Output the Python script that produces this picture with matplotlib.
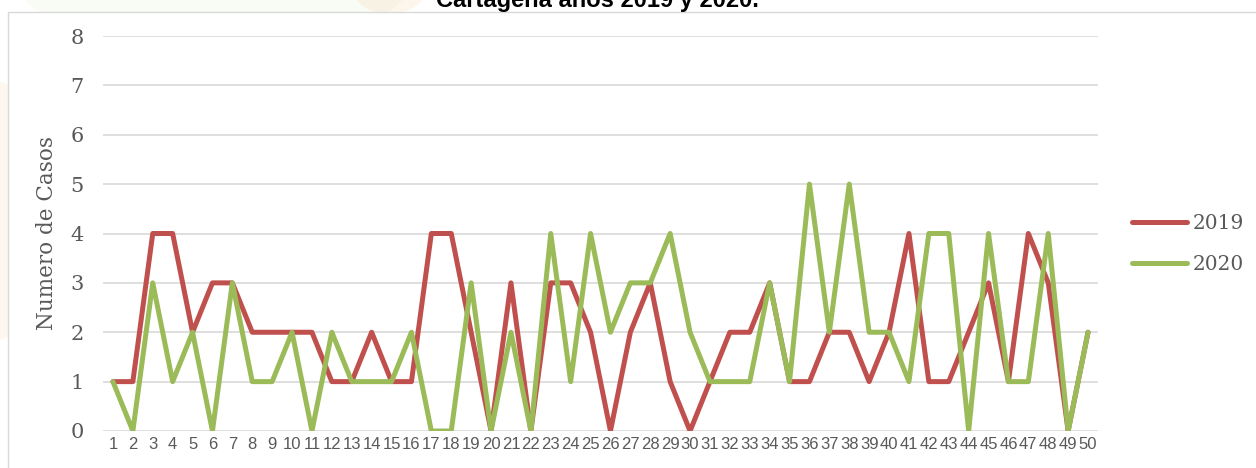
import numpy as np
import matplotlib
matplotlib.use("Agg")
import matplotlib.pyplot as plt
import matplotlib.patches as mpatches
from matplotlib import font_manager

# ------------------------------------------------------------
# data
# ------------------------------------------------------------
weeks = list(range(1, 51))
casos_2019 = [1, 1, 4, 4, 2, 3, 3, 2, 2, 2,
              2, 1, 1, 2, 1, 1, 4, 4, 2, 0,
              3, 0, 3, 3, 2, 0, 2, 3, 1, 0,
              1, 2, 2, 3, 1, 1, 2, 2, 1, 2,
              4, 1, 1, 2, 3, 1, 4, 3, 0, 2]
casos_2020 = [1, 0, 3, 1, 2, 0, 3, 1, 1, 2,
              0, 2, 1, 1, 1, 2, 0, 0, 3, 0,
              2, 0, 4, 1, 4, 2, 3, 3, 4, 2,
              1, 1, 1, 3, 1, 5, 2, 5, 2, 2,
              1, 4, 4, 0, 4, 1, 1, 4, 0, 2]
series_labels = ["2019", "2020"]
y_ticks = list(range(0, 9))

RED   = "#C0504D"
GREEN = "#9BBB59"
GRID  = "#D9D9D9"
TXT   = "#595959"
SERIF = "DejaVu Serif"

# narrow sans for the crowded x labels, if it is there
names = {f.name for f in font_manager.fontManager.ttflist}
NARROW = "Liberation Sans Narrow" if "Liberation Sans Narrow" in names else "Liberation Sans"
x_fs = 15 if NARROW == "Liberation Sans Narrow" else 12

W, H = 1256, 468
fig = plt.figure(figsize=(W / 100, H / 100), dpi=100)
fig.patch.set_facecolor("white")

# faint watermark fragments behind the chart
fig.patches.append(mpatches.Ellipse((0.17, 1.06), 0.32, 0.35,
                                    transform=fig.transFigure,
                                    facecolor="#9BBB59", alpha=0.06,
                                    edgecolor="none", zorder=0))
fig.patches.append(mpatches.Ellipse((0.0, 0.55), 0.06, 0.55,
                                    transform=fig.transFigure,
                                    facecolor="#F5B66E", alpha=0.10,
                                    edgecolor="none", zorder=0))
fig.patches.append(mpatches.Ellipse((0.31, 1.03), 0.06, 0.12,
                                    transform=fig.transFigure,
                                    facecolor="#F5B66E", alpha=0.12,
                                    edgecolor="none", zorder=0))

# chart border box
fig.patches.append(mpatches.Rectangle((8 / W, -0.01), 1.0, 1 - 12 / H + 0.01,
                                      transform=fig.transFigure,
                                      facecolor="white", edgecolor=GRID,
                                      linewidth=1.0, zorder=1))

# title (cut off at the top in the reference)
fig.text(597 / W, 1 - 7 / H, "Cartagena años 2019 y 2020.",
         ha="center", va="baseline", fontsize=17, fontweight="bold",
         family="Liberation Sans", color="black")

ax = fig.add_axes([103 / W, 37 / H, (1098 - 103) / W, (431 - 36) / H])
ax.set_facecolor("none")
ax.set_zorder(2)

ax.plot(weeks, casos_2019, color=RED, lw=3.6, label=series_labels[0],
        solid_joinstyle="round", solid_capstyle="round", zorder=3)
ax.plot(weeks, casos_2020, color=GREEN, lw=3.6, label=series_labels[1],
        solid_joinstyle="round", solid_capstyle="round", zorder=4)

ax.set_xlim(0.5, 50.5)
ax.set_ylim(0, 8)
ax.set_yticks(y_ticks)
ax.set_yticklabels([str(v) for v in y_ticks], family=SERIF,
                   fontsize=15, color=TXT)
ax.set_xticks(weeks)
ax.set_xticklabels([str(w) for w in weeks], family=NARROW,
                   fontsize=x_fs, color=TXT)
ax.tick_params(axis="y", length=0, pad=14)
ax.tick_params(axis="x", length=0, pad=4)
ax.grid(axis="y", color=GRID, linewidth=1.2, zorder=0)
ax.set_axisbelow(True)
for s in ax.spines.values():
    s.set_visible(False)

fig.text(47 / W, 1 - 233 / H, "Numero de Casos", rotation=90,
         ha="center", va="center", family=SERIF, fontsize=15.5, color=TXT)

leg = ax.legend(loc="center left", bbox_to_anchor=(1132 / W, 1 - 244 / H),
                bbox_transform=fig.transFigure, frameon=False,
                borderpad=0, borderaxespad=0, handlelength=2.75,
                handletextpad=0.25, labelspacing=1.1,
                prop={"family": SERIF, "size": 14.5})
for t in leg.get_texts():
    t.set_color(TXT)
for h in leg.get_lines():
    h.set_linewidth(3.6)
    h.set_solid_capstyle("round")

fig.savefig("out.png", dpi=100, facecolor="white")
